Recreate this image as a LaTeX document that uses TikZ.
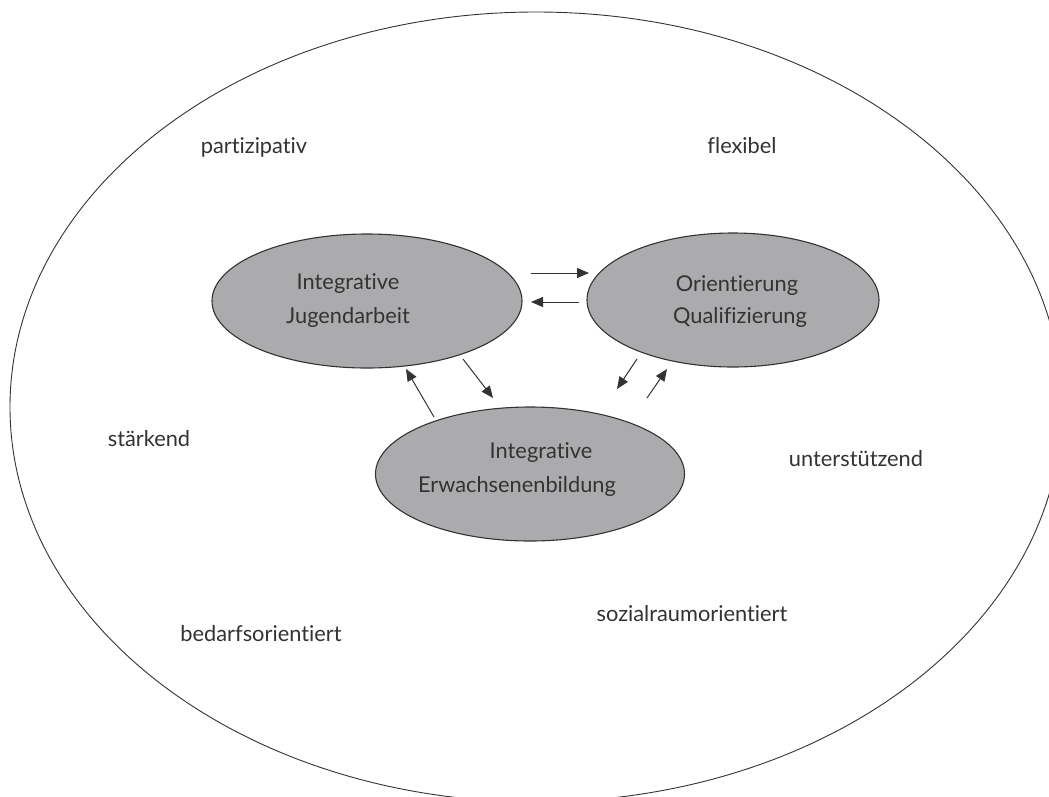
\documentclass[tikz,border=0pt]{standalone}
\usepackage{fontspec}
\setmainfont{Lato}[Ligatures={NoCommon,NoContextual}]
\usetikzlibrary{shapes.geometric,arrows.meta}
\definecolor{linec}{HTML}{333333}
\definecolor{fillc}{HTML}{ABABAD}
\definecolor{textc}{HTML}{333333}
\begin{document}
\begin{tikzpicture}[x=1pt,y=-1pt,
  bubble/.style={ellipse,draw=linec,fill=fillc,line width=1.1pt,inner sep=0pt},
  txt/.style={anchor=base,inner sep=0pt,text=textc,font=\fontsize{21.8}{26}\selectfont},
  flow/.style={draw=linec,line width=1pt,-{Triangle[length=12pt,width=10pt]}}]
\useasboundingbox (0,0) rectangle (1049,796);
\clip (0,0) rectangle (1049,796);
\fill[white] (0,0) rectangle (1049,796);
% outer ellipse
\node[ellipse,draw=linec,line width=0.9pt,minimum width=1052pt,minimum height=790pt,inner sep=0pt] (outer) at (536,407) {};
% inner ellipses
\node[bubble,minimum width=310pt,minimum height=134pt] (ja) at (367,301) {};
\node[bubble,minimum width=292pt,minimum height=134pt] (oq) at (733,300) {};
\node[bubble,minimum width=309pt,minimum height=134pt] (eb) at (530,474) {};
% texts in ellipses
\node[txt] (ja1) at (348,289) {Integrative};
\node[txt] (ja2) at (348,323) {Jugendarbeit};
\node[txt] (oq1) at (737,291) {Orientierung};
\node[txt] (oq2) at (740,323) {Qualifizierung};
\node[txt] (eb1) at (541,458) {Integrative};
\node[txt] (eb2) at (517,492) {Erwachsenenbildung};
% outer labels
\node[txt] (l1) at (254,153) {partizipativ};
\node[txt] (l2) at (742,153) {flexibel};
\node[txt] (l3) at (149,446) {stärkend};
\node[txt] (l4) at (856,466) {unterstützend};
\node[txt] (l5) at (261,641) {bedarfsorientiert};
\node[txt] (l6) at (692,621) {sozialraumorientiert};
% arrow end points
\coordinate (a1s) at (531,273); \coordinate (a1e) at (589,273);
\coordinate (a2s) at (579,302); \coordinate (a2e) at (531,302);
\coordinate (a3s) at (463,359); \coordinate (a3e) at (493,398);
\coordinate (a4s) at (434,417); \coordinate (a4e) at (406,369);
\coordinate (a5s) at (637,359); \coordinate (a5e) at (617,389);
\coordinate (a6s) at (647,398); \coordinate (a6e) at (667,369);
\draw[flow] (a1s) -- (a1e);
\draw[flow] (a2s) -- (a2e);
\draw[flow] (a3s) -- (a3e);
\draw[flow] (a4s) -- (a4e);
\draw[flow] (a5s) -- (a5e);
\draw[flow] (a6s) -- (a6e);
\end{tikzpicture}
\end{document}
